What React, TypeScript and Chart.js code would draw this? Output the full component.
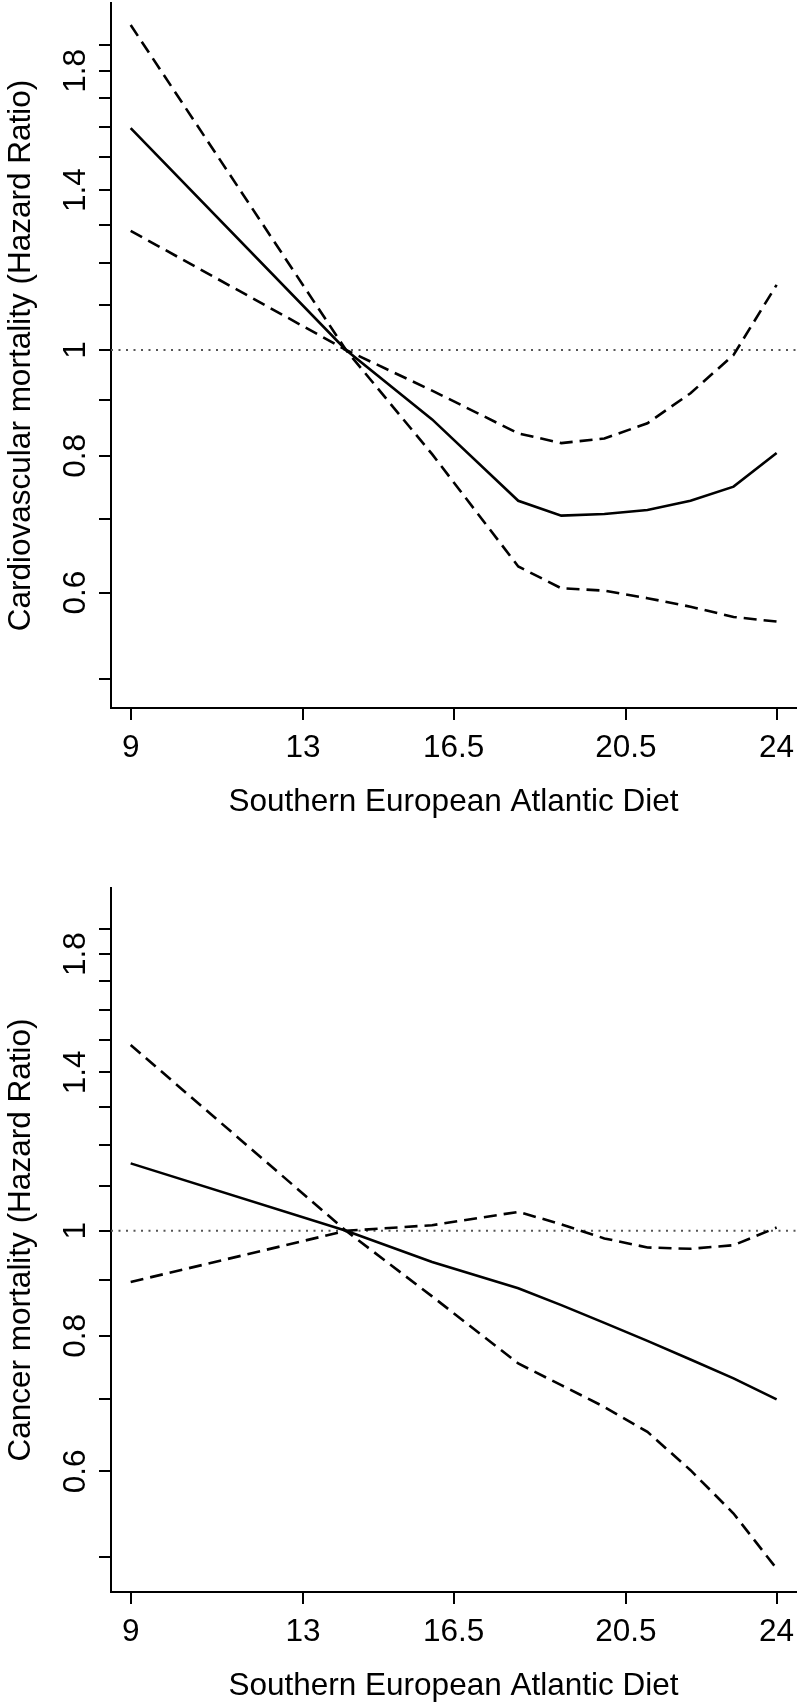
import React, { useEffect, useRef } from "react";
import { Chart, registerables } from "chart.js";

Chart.register(...registerables);

// ---- data ----
const xKnots = [9, 14, 16, 18, 19, 20, 21, 22, 23, 24];

const cvdHR = [1.595, 1.0, 0.864, 0.728, 0.7055, 0.708, 0.714, 0.728, 0.75, 0.805];
const cvdCiA = [1.982, 1.0, 0.803, 0.634, 0.6055, 0.6025, 0.593, 0.5825, 0.57, 0.5645];
const cvdCiB = [1.285, 1.0, 0.918, 0.839, 0.822, 0.83, 0.857, 0.913, 0.9895, 1.147];

const cancerHR = [1.154, 1.0, 0.936, 0.885, 0.854, 0.8225, 0.7916, 0.761, 0.731, 0.699];
const cancerCiA = [1.484, 1.0, 0.87, 0.7545, 0.7205, 0.688, 0.6525, 0.6015, 0.5486, 0.488];
const cancerCiB = [0.897, 1.0, 1.012, 1.041, 1.014, 0.984, 0.9653, 0.9625, 0.97, 1.007];

const xTicks = [9, 13, 16.5, 20.5, 24];
const yTicks = [0.5, 0.6, 0.7, 0.8, 0.9, 1, 1.1, 1.2, 1.3, 1.4, 1.5, 1.6, 1.7, 1.8, 1.9];
const yLabeled = [0.6, 0.8, 1, 1.4, 1.8];
const refValue = 1;

const xTitle = "Southern European Atlantic Diet";
const cvdTitle = "Cardiovascular mortality (Hazard Ratio)";
const cancerTitle = "Cancer mortality (Hazard Ratio)";

const xRange = [8.543, 24.45];
const cvdYRange = [0.4706, 2.076];
const cancerYRange = [0.4644, 2.071];

// ---- styles ----
const FONT_FAMILY = "'Liberation Sans', Arial, Helvetica, sans-serif";
const FONT_SIZE = 31.5;
const CANVAS_W = 800;
const Y_AXIS_W = 111;

type PanelProps = {
  top: number;
  height: number;
  plotBottom: number;
  yRange: number[];
  yTitle: string;
  hr: number[];
  ciA: number[];
  ciB: number[];
  titlePadBottom: number;
};

function Panel(props: PanelProps) {
  const ref = useRef<HTMLCanvasElement | null>(null);
  useEffect(() => {
    const canvas = ref.current;
    if (!canvas) return;
    const { height, plotBottom, yRange, yTitle, hr, ciA, ciB, titlePadBottom } = props;
    const pts = (ys: number[]) => xKnots.map((x, i) => ({ x, y: ys[i] }));
    const font = { family: FONT_FAMILY, size: FONT_SIZE };
    const grid = {
      display: true,
      drawOnChartArea: false,
      drawTicks: true,
      tickLength: 12,
      lineWidth: 2,
      tickWidth: 2,
      color: "#000",
      tickColor: "#000",
    };
    const border = { display: true, color: "#000", width: 2 };
    const chart = new Chart(canvas, {
      type: "line",
      data: {
        datasets: [
          {
            data: pts(hr),
            borderColor: "#000",
            borderWidth: 2.6,
            pointRadius: 0,
            fill: false,
            tension: 0,
          },
          {
            data: pts(ciA),
            borderColor: "#000",
            borderWidth: 2.6,
            borderDash: [13, 7],
            pointRadius: 0,
            fill: false,
            tension: 0,
          },
          {
            data: pts(ciB),
            borderColor: "#000",
            borderWidth: 2.6,
            borderDash: [13, 7],
            pointRadius: 0,
            fill: false,
            tension: 0,
          },
          {
            data: [
              { x: xRange[0], y: refValue },
              { x: xRange[1], y: refValue },
            ],
            borderColor: "#555",
            borderWidth: 2,
            borderDash: [2, 5.5],
            pointRadius: 0,
            fill: false,
          },
        ],
      },
      options: {
        responsive: false,
        animation: false,
        devicePixelRatio: 1,
        layout: { padding: { left: 0, top: 3, right: 4, bottom: 0 } },
        plugins: { legend: { display: false }, tooltip: { enabled: false } },
        scales: {
          x: {
            type: "linear",
            position: "bottom",
            min: xRange[0],
            max: xRange[1],
            bounds: "data",
            afterBuildTicks: (s: any) => {
              s.ticks = xTicks.map((v) => ({ value: v }));
            },
            afterFit: (s: any) => {
              s.height = height - plotBottom;
              s.paddingLeft = 0;
              s.paddingRight = 0;
            },
            grid,
            border,
            ticks: {
              color: "#000",
              font,
              padding: 9,
              maxRotation: 0,
              minRotation: 0,
              autoSkip: false,
              callback: (v: any) => String(v),
            },
            title: {
              display: true,
              text: xTitle,
              color: "#000",
              font,
              padding: { top: 0, bottom: titlePadBottom },
            },
          },
          y: {
            type: "logarithmic",
            position: "left",
            min: yRange[0],
            max: yRange[1],
            bounds: "data",
            afterBuildTicks: (s: any) => {
              s.ticks = yTicks.map((v) => ({ value: v }));
            },
            afterFit: (s: any) => {
              s.width = Y_AXIS_W;
              s.paddingTop = 0;
              s.paddingBottom = 0;
            },
            grid,
            border,
            ticks: {
              color: "#000",
              font,
              padding: 1,
              minRotation: 90,
              maxRotation: 90,
              crossAlign: "center",
              autoSkip: false,
              callback: (v: any) =>
                yLabeled.some((l) => Math.abs(l - Number(v)) < 1e-6) ? String(v) : "",
            },
            title: {
              display: true,
              text: yTitle,
              color: "#000",
              font,
              padding: { top: 2.6, bottom: 0 },
            },
          },
        },
      } as any,
    });
    return () => chart.destroy();
  }, []);
  return (
    <canvas
      ref={ref}
      width={CANVAS_W}
      height={props.height}
      style={{
        position: "absolute",
        left: 0,
        top: props.top,
        width: CANVAS_W,
        height: props.height,
        display: "block",
      }}
    />
  );
}

export default function App() {
  return (
    <div
      style={{
        position: "absolute",
        left: 0,
        top: 0,
        width: 800,
        height: 1705,
        background: "#fff",
        overflow: "hidden",
      }}
    >
      <Panel
        top={0}
        height={885}
        plotBottom={708}
        yRange={cvdYRange}
        yTitle={cvdTitle}
        hr={cvdHR}
        ciA={cvdCiA}
        ciB={cvdCiB}
        titlePadBottom={64}
      />
      <Panel
        top={885}
        height={820}
        plotBottom={707}
        yRange={cancerYRange}
        yTitle={cancerTitle}
        hr={cancerHR}
        ciA={cancerCiA}
        ciB={cancerCiB}
        titlePadBottom={0}
      />
    </div>
  );
}
